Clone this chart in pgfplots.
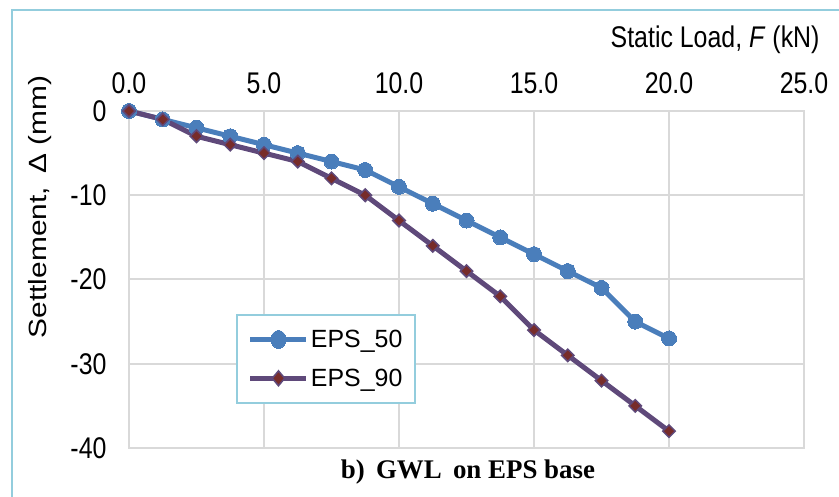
\documentclass[border=0pt]{standalone}
\usepackage{pgfplots}
\pgfplotsset{compat=1.18}
\usepackage{fontspec}
\setmainfont{Liberation Sans}
\newfontfamily\serifb{Liberation Serif}
\definecolor{cblue}{HTML}{4A7EBB}
\definecolor{cpurple}{HTML}{5F497A}
\definecolor{cred}{HTML}{772C2A}
\definecolor{gridc}{HTML}{D9D9D9}
\definecolor{frame}{HTML}{93CDDD}
\begin{document}
\begin{tikzpicture}[x=1bp,y=1bp,font=\fontsize{25}{30}\selectfont]
\useasboundingbox (0,0) rectangle (839,497);
\fill[white] (0,0) rectangle (839,497);
\draw[frame, line width=2.5bp] (12,-5) -- (12,487) -- (845,487);
\begin{axis}[
  at={(129bp,49bp)}, anchor=south west,
  scale only axis, width=675bp, height=337bp,
  xmin=0, xmax=25, ymin=-40, ymax=0,
  xtick={0,5,10,15,20,25},
  ytick={-40,-30,-20,-10,0},
  xticklabel pos=upper,
  xticklabels={0.0,5.0,10.0,15.0,20.0,25.0},
  /pgf/number format/assume math mode=true,
  grid=major,
  major grid style={gridc, line width=2bp},
  axis line style={gridc, line width=2bp},
  major tick length=0pt,
  xticklabel style={yshift=13bp, yscale=1.2},
  yticklabel style={xshift=-19bp, yscale=1.2},
  clip=false,
  legend style={at={(0.1585,0.3976)}, anchor=north west, draw=frame, line width=2bp,
    font=\fontsize{25}{30}\selectfont, inner xsep=11bp, inner ysep=13bp,
    row sep=16bp, cells={anchor=west, yscale=1.2}},
  legend image code/.code={
    \draw[#1, line width=5bp] (0bp,0bp) -- (56bp,0bp);
    \draw[#1, line width=5bp, mark repeat=2, mark phase=2] plot coordinates {(0bp,0bp) (28bp,0bp) (56bp,0bp)};
  },
]
\addplot[cblue, line width=5bp, mark=*, mark size=7.5bp, mark options={fill=cblue, draw=cblue, line width=0bp}]
coordinates {(0,0) (1.25,-1) (2.5,-2) (3.75,-3) (5,-4) (6.25,-5) (7.5,-6) (8.75,-7) (10,-9) (11.25,-11) (12.5,-13) (13.75,-15) (15,-17) (16.25,-19) (17.5,-21) (18.75,-25) (20,-27)};
\addlegendentry{EPS\_50}
\addplot[cpurple, line width=5bp, mark=square*, mark size=4.4bp, mark options={fill=cred, draw=cpurple, line width=1.5bp, rotate=45}]
coordinates {(0,0) (1.25,-1) (2.5,-3) (3.75,-4) (5,-5) (6.25,-6) (7.5,-8) (8.75,-10) (10,-13) (11.25,-16) (12.5,-19) (13.75,-22) (15,-26) (16.25,-29) (17.5,-32) (18.75,-35) (20,-38)};
\addlegendentry{EPS\_90}
\end{axis}
\node[anchor=east, yscale=1.2] at (823,457) {Static Load, \textit{F} (kN)};
\node[rotate=90, xscale=1.2] at (40,290) {Settlement,\, Δ (mm)};
\node at (468,25) {\serifb\bfseries\fontsize{27}{32}\selectfont b)\, GWL\, on EPS base};
\end{tikzpicture}
\end{document}
